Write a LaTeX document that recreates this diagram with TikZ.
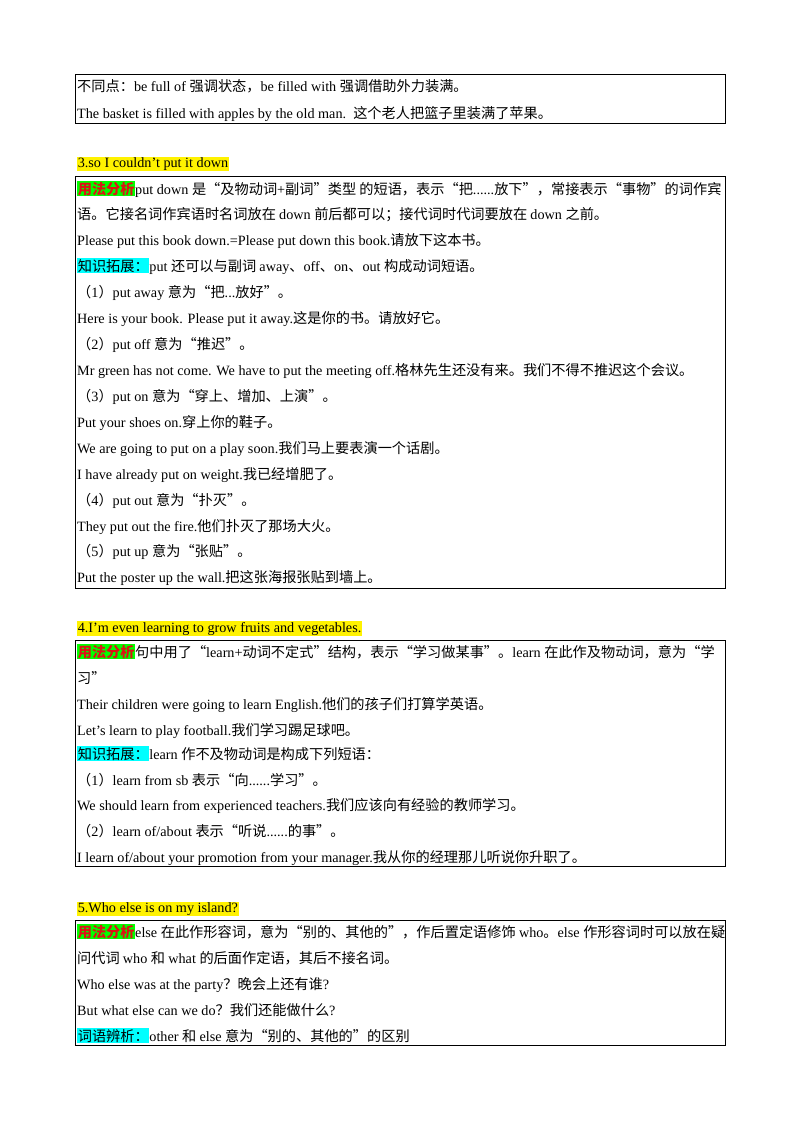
\documentclass[tikz,border=0pt]{standalone}
\usepackage{fontspec}
\setmainfont{Liberation Serif}
\newfontfamily\cjkfont{Noto Sans CJK SC}
\newXeTeXintercharclass\cjkcls
\newcount\cc
\def\setrange#1#2{\cc=#1 \loop \XeTeXcharclass\cc=\cjkcls \ifnum\cc<#2 \advance\cc 1 \repeat}
\setrange{"3000}{"30FF}
\setrange{"4E00}{"9FFF}
\setrange{"FF00}{"FFEF}
\setrange{"201C}{"201D}
\XeTeXinterchartoks 0 \cjkcls = {\cjkfont}
\XeTeXinterchartoks 4095 \cjkcls = {\cjkfont}
\XeTeXinterchartoks \cjkcls 0 = {\rmfamily}
\XeTeXinterchartoks 4095 0 = {\rmfamily}
\XeTeXinterchartokenstate=1
\definecolor{hlgreen}{RGB}{0,255,0}
\definecolor{hlcyan}{RGB}{0,255,255}
\definecolor{hlred}{RGB}{220,20,20}
\setlength\fboxsep{0.6pt}
\newcommand\yfa{\colorbox{hlgreen}{\bfseries\color{hlred}用法分析}}
\newcommand\zs[1]{\colorbox{hlcyan}{#1}}
\newcommand\hd[1]{\colorbox{yellow}{#1}}
\tikzset{txt/.style={anchor=base west,inner sep=0pt,font=\fontsize{14.2}{16}\selectfont},
  box/.style={draw,line width=0.8pt}}
\newcommand\row[3]{\node[txt] (#1) at (77,#2+5) {#3};}
\begin{document}
\begin{tikzpicture}[x=1pt,y=-1pt]
\useasboundingbox[fill=white] (0,0) rectangle (800,1132);
\draw[box] (75,74) rectangle (725,123);
\draw[box] (75,176) rectangle (725,588);
\draw[box] (75,640) rectangle (725,866);
\draw[box] (75,920) rectangle (725,1045);
\row{a1}{87}{不同点：be full of 强调状态，be filled with 强调借助外力装满。}
\row{a2}{113}{The basket is filled with apples by the old man.\ \ 这个老人把篮子里装满了苹果。}
\row{h3}{162}{\hd{3.so I couldn’t put it down}}
\row{b1}{189}{\yfa put down 是“及物动词+副词”类型 的短语，表示“把......放下”，常接表示“事物”的词作宾}
\row{b2}{214}{语。它接名词作宾语时名词放在 down 前后都可以；接代词时代词要放在 down 之前。}
\row{b3}{240}{Please put this book down.=Please put down this book.请放下这本书。}
\row{b4}{266}{\zs{知识拓展：}put 还可以与副词 away、off、on、out 构成动词短语。}
\row{b5}{292}{（1）put away 意为“把...放好”。}
\row{b6}{318}{Here is your book. Please put it away.这是你的书。请放好它。}
\row{b7}{344}{（2）put off 意为“推迟”。}
\row{b8}{370}{Mr green has not come. We have to put the meeting off.格林先生还没有来。我们不得不推迟这个会议。}
\row{b9}{396}{（3）put on 意为“穿上、增加、上演”。}
\row{b10}{422}{Put your shoes on.穿上你的鞋子。}
\row{b11}{448}{We are going to put on a play soon.我们马上要表演一个话剧。}
\row{b12}{474}{I have already put on weight.我已经增肥了。}
\row{b13}{500}{（4）put out 意为“扑灭”。}
\row{b14}{526}{They put out the fire.他们扑灭了那场大火。}
\row{b15}{551}{（5）put up 意为“张贴”。}
\row{b16}{577}{Put the poster up the wall.把这张海报张贴到墙上。}
\row{h4}{627}{\hd{4.I’m even learning to grow fruits and vegetables.}}
\row{c1}{652}{\yfa 句中用了“learn+动词不定式”结构，表示“学习做某事”。learn 在此作及物动词，意为“学}
\row{c2}{678}{习”}
\row{c3}{704}{Their children were going to learn English.他们的孩子们打算学英语。}
\row{c4}{730}{Let’s learn to play football.我们学习踢足球吧。}
\row{c5}{754}{\zs{知识拓展：}learn 作不及物动词是构成下列短语：}
\row{c6}{780}{（1）learn from sb 表示“向......学习”。}
\row{c7}{805}{We should learn from experienced teachers.我们应该向有经验的教师学习。}
\row{c8}{831}{（2）learn of/about 表示“听说......的事”。}
\row{c9}{857}{I learn of/about your promotion from your manager.我从你的经理那儿听说你升职了。}
\row{h5}{907}{\hd{5.Who else is on my island?}}
\row{d1}{932}{\yfa else 在此作形容词，意为“别的、其他的”，作后置定语修饰 who。else 作形容词时可以放在疑}
\row{d2}{958}{问代词 who 和 what 的后面作定语，其后不接名词。}
\row{d3}{984}{Who else was at the party？晚会上还有谁?}
\row{d4}{1010}{But what else can we do？我们还能做什么?}
\row{d5}{1036}{\zs{词语辨析：}other 和 else 意为“别的、其他的”的区别}
\end{tikzpicture}
\end{document}
